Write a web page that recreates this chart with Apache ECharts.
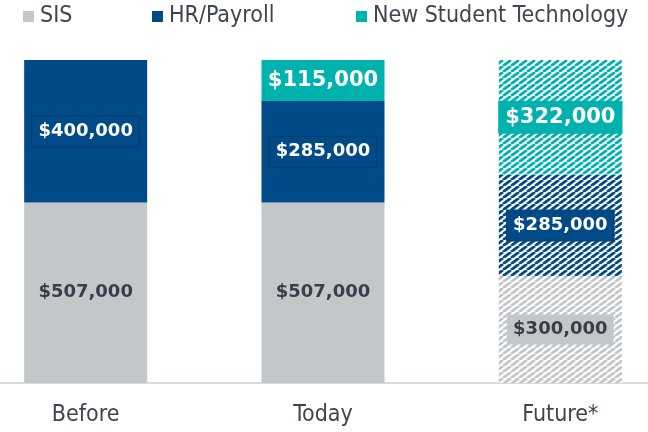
<!DOCTYPE html>
<html>
<head>
<meta charset="utf-8">
<script src="https://cdn.jsdelivr.net/npm/echarts@6/dist/echarts.min.js"></script>
<style>
html,body{margin:0;padding:0;background:#fff;overflow:hidden;width:648px;height:432px;}
#chart{width:712px;height:432px;margin-left:-33px;}
</style>
</head>
<body>
<div id="chart"></div>
<script>
// ---- data ----
const categories = ['Before', 'Today', 'Future*'];
const seriesNames = ['SIS', 'HR/Payroll', 'New Student Technology'];
const sisValues = [507000, 507000, 300000];
const hrValues = [400000, 285000, 285000];
const nstValues = [null, 115000, 322000];
const yAxisMax = 907000;
const hatchedIndex = 2; // Future* bar is hatched

// ---- styles ----
const GRAY = '#C4C7C9', NAVY = '#004B87', TEAL = '#00B2AD';
const AXIS_FONT = "'DejaVu Sans Condensed', 'DejaVu Sans', sans-serif";
const LABEL_FONT = "'DejaVu Sans', sans-serif";
const OFFSET = 33; // chart canvas is shifted left by this many px

function hatch(color) {
  const W = 8, H = 6;
  const c = document.createElement('canvas');
  c.width = W; c.height = H;
  const g = c.getContext('2d');
  g.fillStyle = '#fff';
  g.fillRect(0, 0, W, H);
  g.strokeStyle = color;
  g.lineWidth = 2.8;
  for (const dx of [-W, 0, W]) {
    g.beginPath();
    g.moveTo(dx, H);
    g.lineTo(dx + W, 0);
    g.stroke();
  }
  return { image: c, repeat: 'repeat' };
}

function money(v) {
  return '$' + v.toString().replace(/\B(?=(\d{3})+(?!\d))/g, ',');
}

function baseLabel(textColor, bg, border, size, pad) {
  return {
    show: true,
    position: 'inside',
    fontFamily: LABEL_FONT,
    fontWeight: 'bold',
    fontSize: size,
    lineHeight: size + 2,
    color: textColor,
    backgroundColor: bg,
    borderColor: border,
    borderWidth: border ? 1 : 0,
    padding: pad,
    formatter: p => (p.value == null ? '' : money(p.value))
  };
}

function buildData(values, color, labelFor) {
  return values.map((v, i) => {
    const item = { value: v };
    if (i === hatchedIndex) item.itemStyle = { color: hatch(color) };
    const l = labelFor ? labelFor(i) : null;
    if (l) item.label = l;
    return item;
  });
}

const chart = echarts.init(document.getElementById('chart'), null, { renderer: 'canvas' });

const legendCommon = {
  top: 5,
  padding: 0,
  itemWidth: 11,
  itemHeight: 11,
  icon: 'rect',
  selectedMode: false,
  textStyle: { fontFamily: AXIS_FONT, fontSize: 23, color: '#3F4450', padding: [0, 0, 0, 1], lineHeight: 23 }
};

chart.setOption({
  animation: false,
  backgroundColor: '#fff',
  legend: [
    Object.assign({}, legendCommon, { left: 23 + OFFSET, data: [seriesNames[0]] }),
    Object.assign({}, legendCommon, { left: 152 + OFFSET, data: [seriesNames[1]] }),
    Object.assign({}, legendCommon, { left: 356 + OFFSET, data: [seriesNames[2]] })
  ],
  grid: { left: 0, right: 0, top: 60, bottom: 49, containLabel: false },
  xAxis: {
    type: 'category',
    data: categories,
    axisLine: { show: true, lineStyle: { color: '#D9DCDF', width: 2 } },
    axisTick: { show: false },
    axisLabel: { fontFamily: AXIS_FONT, fontSize: 23, color: '#3F4450', margin: 21 }
  },
  yAxis: {
    type: 'value',
    min: 0,
    max: yAxisMax,
    show: false,
    splitLine: { show: false }
  },
  series: [
    {
      name: seriesNames[0],
      type: 'bar',
      stack: 'total',
      barWidth: 123,
      itemStyle: { color: GRAY },
      label: baseLabel('#3A3E4A', GRAY, null, 18, [6, 6, 4, 6]),
      data: buildData(sisValues, GRAY)
    },
    {
      name: seriesNames[1],
      type: 'bar',
      stack: 'total',
      barWidth: 123,
      itemStyle: { color: NAVY },
      label: baseLabel('#ffffff', NAVY, '#0A3A66', 18, [6, 6, 4, 6]),
      data: buildData(hrValues, NAVY)
    },
    {
      name: seriesNames[2],
      type: 'bar',
      stack: 'total',
      barWidth: 123,
      itemStyle: { color: TEAL },
      label: baseLabel('#ffffff', null, null, 21, [4, 0, 0, 0]),
      data: buildData(nstValues, TEAL, i => i === hatchedIndex
        ? baseLabel('#ffffff', TEAL, null, 21, [6, 7, 4, 7])
        : null)
    }
  ]
});
</script>
</body>
</html>
